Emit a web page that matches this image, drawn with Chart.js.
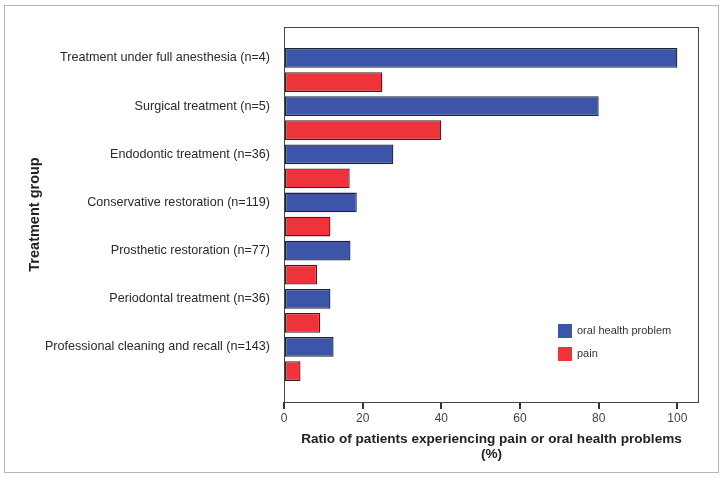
<!DOCTYPE html>
<html>
<head>
<meta charset="utf-8">
<script src="https://cdn.jsdelivr.net/npm/chart.js@4.4.1/dist/chart.umd.min.js"></script>
<style>
  html, body { margin: 0; padding: 0; background: #fff; }
  #wrap { position: relative; width: 723px; height: 478px; }
  #frame { position: absolute; left: 4px; top: 5px; width: 715px; height: 468px; box-sizing: border-box; border: 1px solid #b8b8b8; }
  #chart { position: absolute; left: 0; top: 0; }
</style>
</head>
<body>
<div id="wrap">
  <div id="frame"></div>
  <canvas id="chart" width="723" height="478"></canvas>
</div>
<script>
const groups = [
    'Treatment under full anesthesia (n=4)',
    'Surgical treatment (n=5)',
    'Endodontic treatment (n=36)',
    'Conservative restoration (n=119)',
    'Prosthetic restoration (n=77)',
    'Periodontal treatment (n=36)',
    'Professional cleaning and recall (n=143)',
];
const oralHealth = [100, 80, 27.8, 18.5, 16.9, 11.8, 12.6];
const pain = [25, 40, 16.7, 11.8, 8.4, 9.2, 4.2];
const xTicks = [0, 20, 40, 60, 80, 100];

const toPoints = (vals) => vals.map((v, i) => ({ x: v, y: i }));
const FONT = '"Liberation Sans", Arial, sans-serif';

// frame round the plot area
const plotBorder = {
    id: 'plotBorder',
    afterDatasetsDraw(chart) {
        const { ctx, chartArea: a } = chart;
        ctx.save();
        ctx.strokeStyle = '#444';
        ctx.lineWidth = 1;
        ctx.strokeRect(Math.round(a.left) + 0.5, Math.round(a.top) + 0.5,
            Math.round(a.right - a.left) - 1, Math.round(a.bottom - a.top));
        ctx.restore();
    },
};

// legend sits inside the plot, lower right
const innerLegend = {
    id: 'innerLegend',
    afterDraw(chart) {
        const { ctx, chartArea: a } = chart;
        ctx.save();
        ctx.font = '11px ' + FONT;
        ctx.textBaseline = 'middle';
        chart.data.datasets.forEach((ds, i) => {
            const x = a.right - 141;
            const y = a.bottom - 78 + i * 23;
            ctx.fillStyle = ds.backgroundColor;
            ctx.fillRect(x, y, 14, 14);
            ctx.fillStyle = '#333';
            ctx.fillText(ds.label, x + 19, y + 7);
        });
        ctx.restore();
    },
};

new Chart(document.getElementById('chart'), {
    type: 'bar',
    data: {
        datasets: [{
            label: 'oral health problem',
            data: toPoints(oralHealth),
            backgroundColor: '#3d55a9',
            borderColor: '#1f2233',
            borderWidth: 1.3,
            borderSkipped: false,
        }, {
            label: 'pain',
            data: toPoints(pain),
            backgroundColor: '#ee333a',
            borderColor: '#3a2222',
            borderWidth: 1.3,
            borderSkipped: false,
        }],
    },
    options: {
        indexAxis: 'y',
        responsive: false,
        devicePixelRatio: 1,
        animation: false,
        categoryPercentage: 1,
        barPercentage: 0.82,
        layout: { padding: { top: 27, right: 24, left: 0, bottom: 0 } },
        plugins: {
            legend: { display: false },
            tooltip: { enabled: false },
        },
        scales: {
            x: {
                type: 'linear',
                min: 0,
                max: 105.5,
                afterFit: (s) => { s.height = 76; },
                afterBuildTicks: (s) => { s.ticks = xTicks.map(v => ({ value: v })); },
                grid: {
                    drawOnChartArea: false,
                    drawTicks: true,
                    tickLength: 7,
                    lineWidth: 2,
                    color: '#333',
                },
                border: { display: false },
                ticks: {
                    padding: 2,
                    color: '#444',
                    font: { family: FONT, size: 12 },
                },
                title: {
                    display: true,
                    text: ['Ratio of patients experiencing pain or oral health problems', '(%)'],
                    color: '#222',
                    font: { family: FONT, size: 13.6, weight: 'bold', lineHeight: 1.12 },
                    padding: { top: 0, bottom: 16 },
                },
            },
            y: {
                type: 'linear',
                reverse: true,
                offset: false,
                min: -0.892,
                max: 6.892,
                afterFit: (s) => { s.width = 284; },
                afterBuildTicks: (s) => { s.ticks = groups.map((g, i) => ({ value: i - 0.25 })); },
                grid: { display: false, drawTicks: false, offset: false },
                border: { display: false },
                ticks: {
                    autoSkip: false,
                    padding: 14,
                    color: '#2a2a2a',
                    font: { family: FONT, size: 12.6 },
                    callback: (v, i) => groups[i],
                },
                title: {
                    display: true,
                    text: 'Treatment group',
                    color: '#222',
                    font: { family: FONT, size: 14.5, weight: 'bold' },
                    padding: { top: 26, bottom: 0 },
                },
            },
        },
    },
    plugins: [plotBorder, innerLegend],
});
</script>
</body>
</html>
